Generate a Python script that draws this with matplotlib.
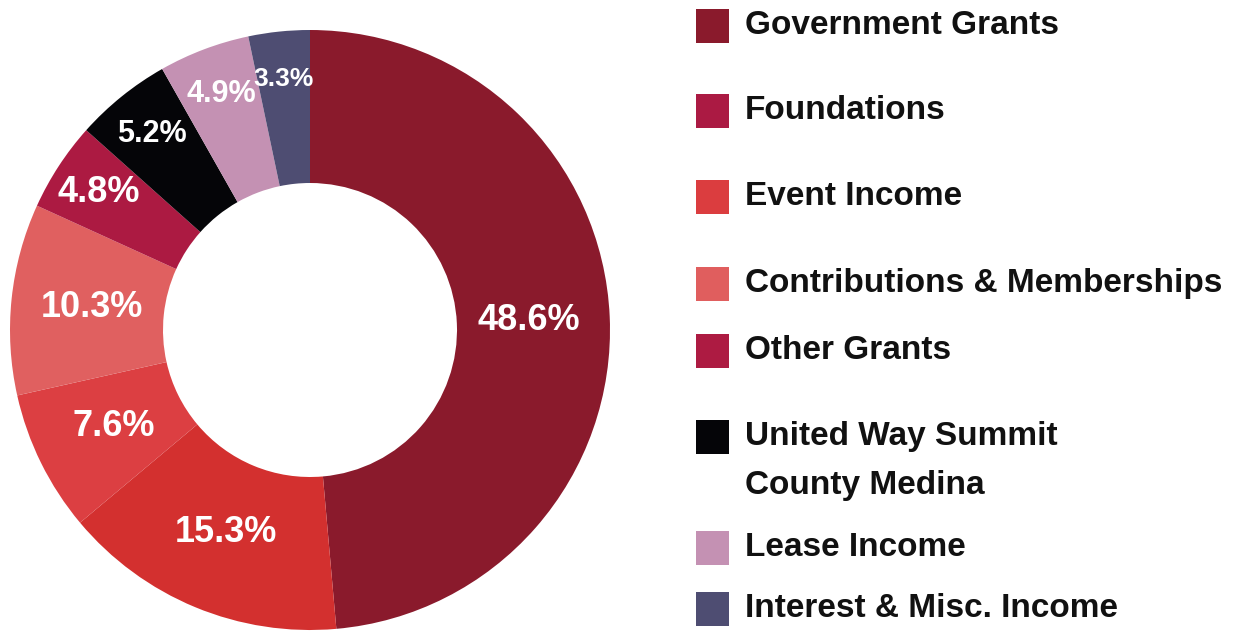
import matplotlib
matplotlib.use("Agg")
import numpy as np
import matplotlib.pyplot as plt
from matplotlib.patches import Rectangle

plt.rcParams["font.family"] = ["Liberation Sans", "DejaVu Sans"]

categories = [
    "Government Grants",
    "Foundations",
    "Event Income",
    "Contributions & Memberships",
    "Other Grants",
    "United Way Summit\nCounty Medina",
    "Lease Income",
    "Interest & Misc. Income",
]
shares = [48.6, 15.3, 7.6, 10.3, 4.8, 5.2, 4.9, 3.3]

wedge_colors = ["#8A1A2C", "#D3302F", "#DC3F42", "#E06060",
                "#AC1A42", "#050508", "#C491B3", "#4E4D72"]
swatch_colors = ["#8A1A2C", "#AB1A43", "#DB3D3F", "#E05E5E",
                 "#AD1B42", "#050508", "#C491B3", "#4E4D72"]
label_sizes = [26, 26, 26, 26, 26, 22, 22, 19]

W, H = 1233, 631
fig = plt.figure(figsize=(W / 100, H / 100), dpi=100)

# donut, centre at (310, 330) px, radius 300 px
cx, cy, r = 310, 330, 300
ax = fig.add_axes([(cx - r) / W, (H - cy - r) / H, 2 * r / W, 2 * r / H])
wedges, _ = ax.pie(shares, colors=wedge_colors, startangle=90,
                   counterclock=False, radius=1,
                   wedgeprops=dict(width=0.51, linewidth=0))
ax.set_xlim(-1, 1)
ax.set_ylim(-1, 1)
ax.set_aspect("equal")
ax.axis("off")

# small slices get their labels pushed out towards the rim
for w, val, fs in zip(wedges, shares, label_sizes):
    ang = np.deg2rad((w.theta1 + w.theta2) / 2)
    rr = 0.84 if val < 6 else 0.73
    ax.text(rr * np.cos(ang), rr * np.sin(ang), f"{val}%", color="white",
            fontsize=fs, fontweight="bold", ha="center", va="center")

# legend, drawn in pixel coordinates
lax = fig.add_axes([0, 0, 1, 1])
lax.set_xlim(0, W)
lax.set_ylim(H, 0)
lax.axis("off")
row_tops = [9, 94, 180, 267, 334, 420, 531, 592]
for name, col, top in zip(categories, swatch_colors, row_tops):
    lax.add_patch(Rectangle((696, top), 33, 34, color=col, linewidth=0))
    for i, line in enumerate(name.split("\n")):
        lax.text(745, top + 25 + i * 49, line, fontsize=24, fontweight="bold",
                 color="#111111", va="baseline", ha="left")

fig.savefig("out.png", dpi=100)
